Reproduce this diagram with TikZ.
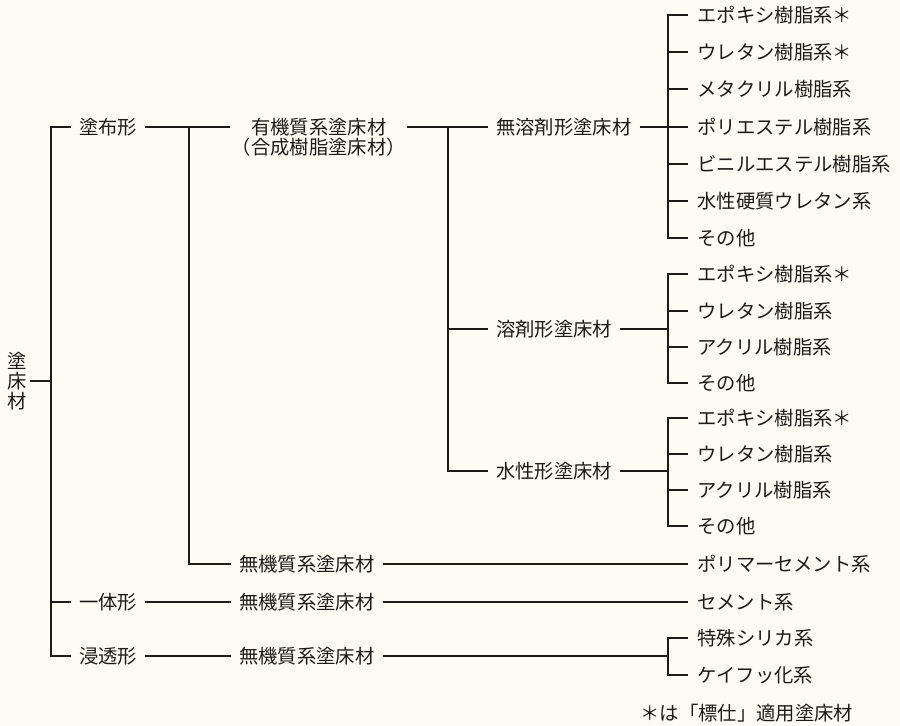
\documentclass[tikz,border=0pt]{standalone}
\usepackage{fontspec}
\newfontfamily\jp{Noto Sans CJK JP}
\definecolor{paper}{RGB}{252,252,243}
\definecolor{ink}{RGB}{28,28,22}

\tikzset{
    class node/.style={anchor=west, inner xsep=6pt, inner ysep=1pt, text=ink,
        font={\jp\fontsize{14.5}{15}\selectfont}, text height=12.8pt, text depth=1.7pt},
    item node/.style={class node, inner xsep=7pt},
    stack node/.style={align=center, inner xsep=1pt, inner ysep=1pt, text=ink,
        font={\jp\fontsize{14.5}{15}\selectfont}},
    wire/.style={draw=ink, line width=1.1pt}
    }

\begin{document}
\begin{tikzpicture}[x=0.75pt,y=-0.75pt]
    \path[fill=paper] (0,0) rectangle (900,726);
    % spine columns
    \coordinate (c0) at (51,0);
    \coordinate (c1) at (189,0);
    \coordinate (c2) at (448,0);
    \coordinate (c3) at (668,0);

    \node (root)[stack node, inner xsep=2.5pt] at (17,381) {塗\\床\\材};

    \node (tofu)[class node] at (71,127) {塗布形};
    \node (itai)[class node] at (71,602) {一体形};
    \node (shinto)[class node] at (71,656) {浸透形};

    \node (yuki)[stack node] at (319,137) {有機質系塗床材\\（合成樹脂塗床材）};
    \node (muki1)[class node] at (231,564) {無機質系塗床材};
    \node (muki2)[class node] at (231,602) {無機質系塗床材};
    \node (muki3)[class node] at (231,656) {無機質系塗床材};

    \node (mu)[class node] at (488,127) {無溶剤形塗床材};
    \node (yo)[class node] at (488,329) {溶剤形塗床材};
    \node (sui)[class node] at (488,471) {水性形塗床材};

    \foreach \t/\y [count=\i] in {エポキシ樹脂系＊/15, ウレタン樹脂系＊/52, メタクリル樹脂系/89,
        ポリエステル樹脂系/127, ビニルエステル樹脂系/164, 水性硬質ウレタン系/201, その他/238}
        \node (a\i)[item node] at (688,\y) {\t};
    \foreach \t/\y [count=\i] in {エポキシ樹脂系＊/274, ウレタン樹脂系/311, アクリル樹脂系/347, その他/383}
        \node (b\i)[item node] at (688,\y) {\t};
    \foreach \t/\y [count=\i] in {エポキシ樹脂系＊/418, ウレタン樹脂系/454, アクリル樹脂系/490, その他/526}
        \node (w\i)[item node] at (688,\y) {\t};

    \node (p1)[item node] at (688,564) {ポリマーセメント系};
    \node (p2)[item node] at (688,602) {セメント系};
    \node (p3)[item node] at (688,638) {特殊シリカ系};
    \node (p4)[item node] at (688,675) {ケイフッ化系};

    \node (note)[class node, anchor=center] at (747,713) {＊は「標仕」適用塗床材};

    % trunk
    \draw[wire] (root.east) -- (root.east -| c0);
    \draw[wire] (tofu.west) -| (c0 |- shinto) -- (shinto.west);
    \draw[wire] (c0 |- itai) -- (itai.west);

    % second level
    \draw[wire] (tofu.east) -- (tofu.east -| yuki.west);
    \draw[wire] (c1 |- tofu) |- (muki1.west);
    \draw[wire] (itai.east) -- (muki2.west);
    \draw[wire] (shinto.east) -- (muki3.west);

    % third level
    \draw[wire] (tofu.east -| yuki.east) -- (mu.west);
    \draw[wire] (c2 |- mu) |- (sui.west);
    \draw[wire] (c2 |- yo) -- (yo.west);

    % leaves
    \draw[wire] (mu.east) -- (a4.west);
    \draw[wire] (a1.west) -| (c3 |- a7) -- (a7.west);
    \foreach \i in {2,3,5,6}
        \draw[wire] (c3 |- a\i) -- (a\i.west);
    \draw[wire] (yo.east) -- (yo.east -| c3);
    \draw[wire] (b1.west) -| (c3 |- b4) -- (b4.west);
    \foreach \i in {2,3}
        \draw[wire] (c3 |- b\i) -- (b\i.west);
    \draw[wire] (sui.east) -- (sui.east -| c3);
    \draw[wire] (w1.west) -| (c3 |- w4) -- (w4.west);
    \foreach \i in {2,3}
        \draw[wire] (c3 |- w\i) -- (w\i.west);
    \draw[wire] (muki1.east) -- (p1.west);
    \draw[wire] (muki2.east) -- (p2.west);
    \draw[wire] (muki3.east) -- (muki3.east -| c3);
    \draw[wire] (p3.west) -| (c3 |- p4) -- (p4.west);
\end{tikzpicture}
\end{document}
